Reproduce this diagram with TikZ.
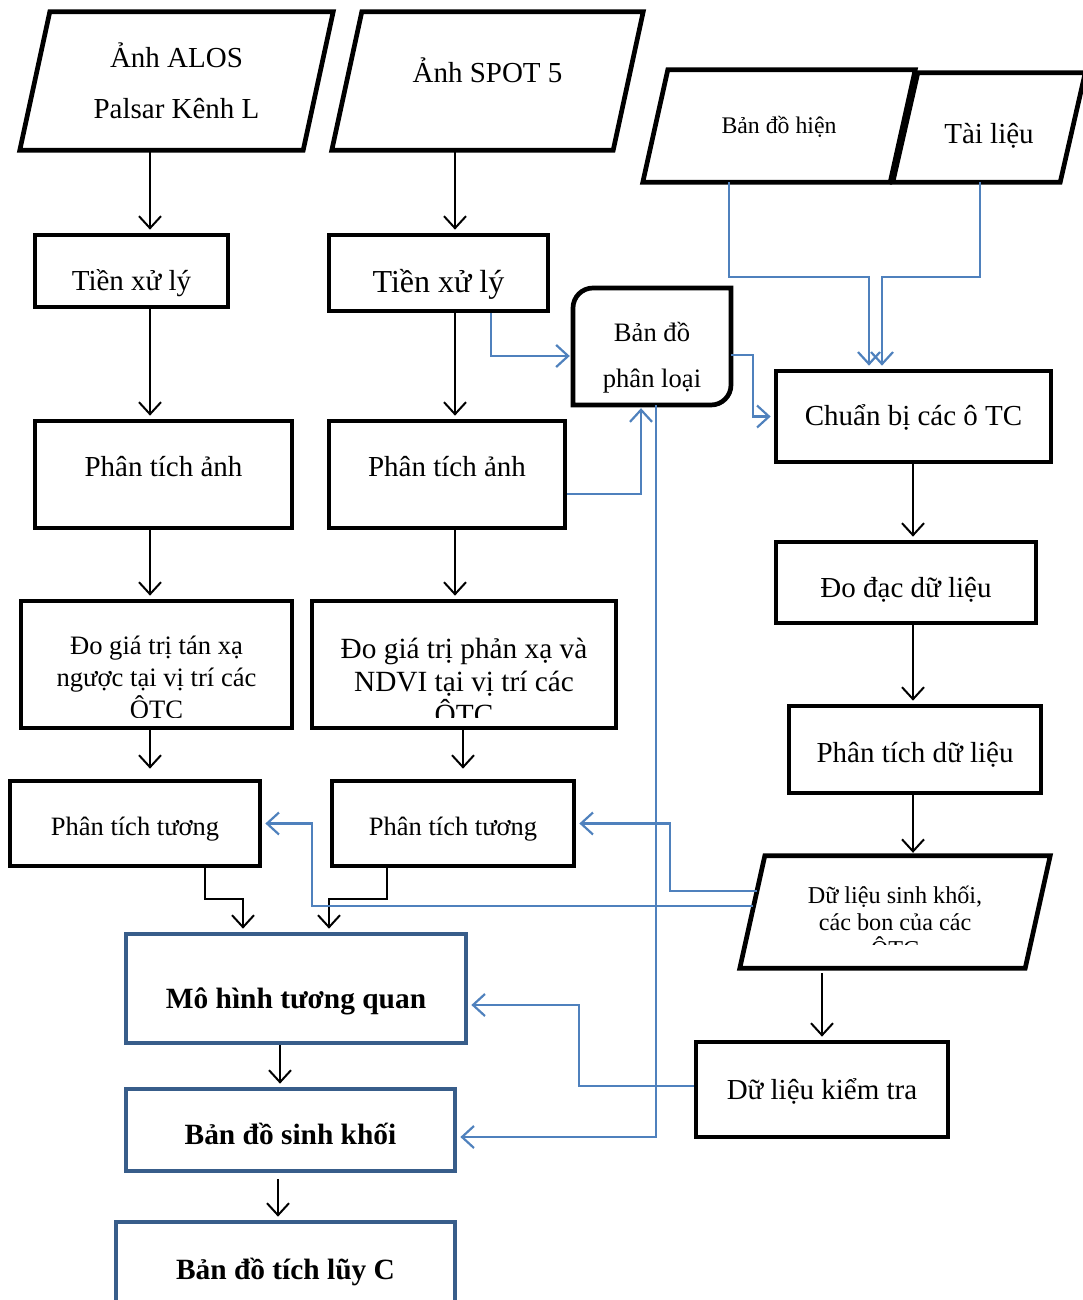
\documentclass[tikz,border=0pt]{standalone}
\usepackage{fontspec}
\setmainfont{Liberation Serif}
\usepackage{xcolor}
\usepackage{tikz}
\usetikzlibrary{arrows.meta,positioning,shapes.geometric,calc}
\definecolor{lineblue}{HTML}{4F81BD}
\definecolor{boxblue}{HTML}{385D8A}
\newcommand{\bigtxt}{\fontsize{29}{51}\selectfont}

\begin{document}
\begin{tikzpicture}[x=1pt, y=-1pt,
box/.style={draw, line width=4.7pt, inner sep=0pt, text depth=0pt, font=\bigtxt},
bluebox/.style={box, draw=boxblue, font=\bfseries\fontsize{29.4}{34}\selectfont},
datain/.style={inner sep=0pt, text depth=0pt, font=\bigtxt},
arrow/.style={-{Straight Barb[length=12pt, width=22pt]}, line width=2pt, shorten >=3pt},
bluearrow/.style={arrow, draw=lineblue, line width=2.2pt}
]
\useasboundingbox (0,0) rectangle (1083,1300);

% input data
\node[datain, align=center, text depth=, minimum width=283, minimum height=138] (alos) at (176.5,81) {Ảnh ALOS\\Palsar Kênh L};
\node[datain, text height=4pt, minimum width=281, minimum height=138] (spot) at (487.5,81) {Ảnh SPOT 5};
\node[datain, text height=16pt, minimum width=247, minimum height=112, font=\fontsize{23.8}{28}\selectfont] (bdhien) at (779,126) {Bản đồ hiện};
\node[datain, text height=33pt, minimum width=167, minimum height=109] (tailieu) at (989,127.5) {Tài liệu};

% image processing
\node[box, text height=38pt, minimum width=193, minimum height=72] (tx1) at (131.5,271) {Tiền xử lý};
\node[box, text height=38pt, minimum width=219, minimum height=76, font=\fontsize{32}{38}\selectfont] (tx2) at (438.5,273) {Tiền xử lý};
\node[box, text height=3pt, minimum width=257, minimum height=107] (pta1) at (163.5,474.5) {Phân tích ảnh};
\node[box, text height=3pt, minimum width=236, minimum height=107] (pta2) at (447,474.5) {Phân tích ảnh};
\node[box, minimum width=271, minimum height=127] (dgt1) at (156.5,664.5) {};
\node[box, minimum width=304, minimum height=127] (dgt2) at (464,664.5) {};
\begin{scope}
\clip (0,590) rectangle (640,717);
\node[align=center, font=\fontsize{26.6}{32}\selectfont] (dgt1txt) at (156.5,677) {Đo giá trị tán xạ\\ngược tại vị trí các\\ÔTC};
\node[align=center, font=\fontsize{29.3}{33}\selectfont] (dgt2txt) at (464,681) {Đo giá trị phản xạ và\\NDVI tại vị trí các\\ÔTC};
\end{scope}
\node[box, text height=23pt, minimum width=250, minimum height=85, font=\fontsize{26.5}{32}\selectfont] (ptt1) at (135,823.5) {Phân tích tương};
\node[box, text height=23pt, minimum width=242, minimum height=85, font=\fontsize{26.5}{32}\selectfont] (ptt2) at (453,823.5) {Phân tích tương};

% classification map
\node[minimum width=158, minimum height=117] (bdpl) at (652,346.5) {};
\node[align=center, font=\fontsize{26.6}{46}\selectfont] (bdpltxt) at ([yshift=-11]bdpl.center) {Bản đồ\\phân loại};
\draw[line width=4.7pt] (573,405) -- (573,308) arc[start angle=180, end angle=270, radius=20] -- (731,288) -- (731,385) arc[start angle=0, end angle=90, radius=20] -- cycle;

% field data
\node[box, text height=17pt, minimum width=275, minimum height=91] (cb) at (913.5,416.5) {Chuẩn bị các ô TC};
\node[box, text height=29pt, minimum width=260, minimum height=81] (dd) at (906,582.5) {Đo đạc dữ liệu};
\node[box, text height=25pt, minimum width=252, minimum height=87] (ptdl) at (915,749.5) {Phân tích dữ liệu};
\node[datain, minimum width=285, minimum height=112] (dlsk) at (895,912) {};
\begin{scope}
\clip (740,850) rectangle (1050,944);
\node[align=center, font=\fontsize{24.2}{27}\selectfont] (dlsktxt) at (895,922) {Dữ liệu sinh khối,\\các bon của các\\ÔTC};
\end{scope}
\node[box, text height=19pt, minimum width=252, minimum height=95] (dlkt) at (822,1089.5) {Dữ liệu kiểm tra};

% parallelogram outlines
\foreach \n/\s in {alos/15, spot/15, bdhien/12.5, tailieu/12.5, dlsk/12.5}
  \draw[line width=4.7pt] ($(\n.south west)+(-\s,0)$) -- ($(\n.north west)+(\s,0)$) -- ($(\n.north east)+(\s,0)$) -- ($(\n.south east)+(-\s,0)$) -- cycle;

% outputs
\node[bluebox, text height=39pt, minimum width=340, minimum height=109] (mhtq) at (296,988.5) {Mô hình tương quan};
\node[bluebox, text height=28pt, minimum width=329, minimum height=82] (bdsk) at (290.5,1130) {Bản đồ sinh khối};
\node[bluebox, text height=34pt, minimum width=339, minimum height=80] (bdtl) at (285.5,1262) {Bản đồ tích lũy C};

% black flow
\draw[arrow] (alos.south -| 150,0) -- (tx1.north -| 150,0);
\draw[arrow] (tx1.south -| 150,0) -- (pta1.north -| 150,0);
\draw[arrow] (pta1.south -| 150,0) -- (dgt1.north -| 150,0);
\draw[arrow, shorten >=10pt] (dgt1.south -| 150,0) -- (ptt1.north -| 150,0);
\draw[arrow] (spot.south -| 455,0) -- (tx2.north -| 455,0);
\draw[arrow] (tx2.south -| 455,0) -- (pta2.north -| 455,0);
\draw[arrow] (pta2.south -| 455,0) -- (dgt2.north -| 455,0);
\draw[arrow, shorten >=10pt] (dgt2.south -| 463,0) -- (ptt2.north -| 463,0);
\draw[arrow] (cb.south -| 913,0) -- (dd.north -| 913,0);
\draw[arrow] (dd.south -| 913,0) -- (ptdl.north -| 913,0);
\draw[arrow] (ptdl.south -| 913,0) -- (dlsk.north -| 913,0);
\draw[arrow, shorten <=5pt] (dlsk.south -| 822,0) -- (dlkt.north -| 822,0);
\draw[arrow] (ptt1.south -| 205,0) -- ++(0,31) -| (mhtq.north -| 243,0);
\draw[arrow] (ptt2.south -| 387,0) -- ++(0,31) -| (mhtq.north -| 329,0);
\draw[arrow] (mhtq.south -| 280,0) -- (bdsk.north -| 280,0);
\draw[arrow, shorten <=6pt] (bdsk.south -| 278,0) -- (bdtl.north -| 278,0);

% blue links
\draw[bluearrow] (tx2.south -| 491,0) |- (bdpl.west |- 0,356);
\draw[bluearrow] (pta2.east |- 0,494) -| (bdpl.south -| 641,0);
\draw[bluearrow] (bdpl.east |- 0,355) -- ++(22,0) |- (cb.west);
\draw[bluearrow] (bdhien.south -| 729,0) -- ++(0,95) -| (cb.north -| 869,0);
\draw[bluearrow] (tailieu.south -| 980,0) -- ++(0,95) -| (cb.north -| 882,0);
\draw[bluearrow] (bdpl.south -| 656,0) |- (bdsk.east |- 0,1137);
\draw[bluearrow] (dlsk.west) ++(5,-21) -| ([xshift=94]ptt2.east) -- (ptt2.east);
\draw[bluearrow] (dlsk.west) ++(1,-6) -| ([xshift=50]ptt1.east) -- (ptt1.east);
\draw[bluearrow] (dlkt.west |- 0,1086) -- ++(-115,0) |- (mhtq.east |- 0,1005);
\end{tikzpicture}
\end{document}
